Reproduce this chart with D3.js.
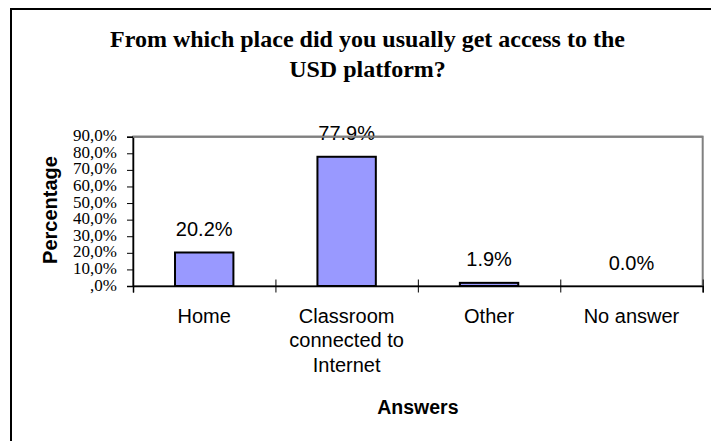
<!DOCTYPE html>
<html>
<head>
<meta charset="utf-8">
<script src="https://cdn.jsdelivr.net/npm/d3@7"></script>
<style>
  html, body { margin: 0; padding: 0; background: #ffffff; }
  svg { display: block; }
</style>
</head>
<body>
<svg id="chart" width="711" height="441"></svg>
<script>
// Survey answers and their shares (in percent)
const categories = ["Home", "Classroom connected to Internet", "Other", "No answer"];
const values = [20.2, 77.9, 1.9, 0.0];
const valueLabels = ["20.2%", "77.9%", "1.9%", "0.0%"];
const yTicks = [0, 10, 20, 30, 40, 50, 60, 70, 80, 90];
const yTickLabels = [",0%", "10,0%", "20,0%", "30,0%", "40,0%", "50,0%", "60,0%", "70,0%", "80,0%", "90,0%"];
const titleLines = ["From which place did you usually get access to the", "USD platform?"];
const yTitle = "Percentage";
const xTitle = "Answers";

const svg = d3.select("#chart");

// Outer chart frame (runs past the right and bottom edges of the view)
svg.append("rect")
  .attr("x", 11).attr("y", 9)
  .attr("width", 800).attr("height", 500)
  .attr("fill", "#ffffff")
  .attr("stroke", "#000000")
  .attr("stroke-width", 2);

const plot = { left: 133, right: 702.7, top: 136.7, bottom: 286 };

const x = d3.scaleBand()
  .domain(categories)
  .range([plot.left, plot.right])
  .paddingInner(0.59)
  .paddingOuter(0.295);

const xEdges = d3.scaleLinear()
  .domain([0, categories.length])
  .range([plot.left, plot.right]);

const y = d3.scaleLinear()
  .domain([0, 90])
  .range([plot.bottom, plot.top]);

// Title
svg.append("g")
  .selectAll("text")
  .data(titleLines)
  .join("text")
  .attr("x", 367.5)
  .attr("y", (d, i) => 46.7 + i * 30.6)
  .attr("text-anchor", "middle")
  .attr("font-family", "'Liberation Serif', 'Times New Roman', serif")
  .attr("font-weight", "bold")
  .attr("font-size", 24)
  .attr("fill", "#000")
  .text(d => d);

// Plot area outline (grey top and right edges)
svg.append("rect")
  .attr("x", plot.left).attr("y", plot.top)
  .attr("width", plot.right - plot.left)
  .attr("height", plot.bottom - plot.top)
  .attr("fill", "none")
  .attr("stroke", "#808080")
  .attr("stroke-width", 2);

// Bars
svg.append("g")
  .selectAll("rect")
  .data(categories.map((c, i) => ({ c, v: values[i] })))
  .join("rect")
  .attr("x", d => x(d.c))
  .attr("y", d => y(d.v))
  .attr("width", x.bandwidth())
  .attr("height", d => y(0) - y(d.v))
  .attr("fill", "#9999ff")
  .attr("stroke", "#000000")
  .attr("stroke-width", 2);

// Y axis
const yAxis = d3.axisLeft(y)
  .tickValues(yTicks)
  .tickSize(6)
  .tickPadding(10)
  .tickFormat((d, i) => yTickLabels[i]);

const gy = svg.append("g")
  .attr("transform", `translate(${plot.left},0)`)
  .call(yAxis);
gy.select(".domain").attr("stroke", "#000").attr("stroke-width", 1.5);
gy.selectAll(".tick line").attr("stroke", "#000").attr("stroke-width", 1);
gy.selectAll(".tick text")
  .attr("font-family", "'Liberation Serif', 'Times New Roman', serif")
  .attr("font-size", 17)
  .attr("fill", "#000")
  .attr("dy", "0.24em");

// X axis: ticks between categories, crossing the axis line
const xAxis = d3.axisBottom(xEdges)
  .tickValues(d3.range(categories.length + 1))
  .tickSize(6.5)
  .tickFormat("");

const gx = svg.append("g")
  .attr("transform", `translate(0,${plot.bottom})`)
  .call(xAxis);
gx.select(".domain").attr("stroke", "#000").attr("stroke-width", 1.5);
gx.selectAll(".tick line")
  .attr("y1", -6.5)
  .attr("stroke", "#000")
  .attr("stroke-width", 1);

// Category labels, wrapped to fit each slot
const wrapWidth = 130;
const labelG = svg.append("g");
categories.forEach(c => {
  const t = labelG.append("text")
    .attr("x", x(c) + x.bandwidth() / 2)
    .attr("y", 323)
    .attr("text-anchor", "middle")
    .attr("font-family", "'Liberation Sans', Arial, sans-serif")
    .attr("font-size", 20)
    .attr("fill", "#000");
  const words = c.split(" ");
  let line = [];
  let lineNo = 0;
  let tspan = t.append("tspan").attr("x", x(c) + x.bandwidth() / 2).attr("dy", 0);
  words.forEach(w => {
    line.push(w);
    tspan.text(line.join(" "));
    if (tspan.node().getComputedTextLength() > wrapWidth && line.length > 1) {
      line.pop();
      tspan.text(line.join(" "));
      line = [w];
      lineNo++;
      tspan = t.append("tspan")
        .attr("x", x(c) + x.bandwidth() / 2)
        .attr("dy", 24.4)
        .text(w);
    }
  });
});

// Value labels above bars
svg.append("g")
  .selectAll("text")
  .data(categories.map((c, i) => ({ c, v: values[i], label: valueLabels[i] })))
  .join("text")
  .attr("x", d => x(d.c) + x.bandwidth() / 2)
  .attr("y", d => y(d.v) - 16.5)
  .attr("text-anchor", "middle")
  .attr("font-family", "'Liberation Sans', Arial, sans-serif")
  .attr("font-size", 20)
  .attr("fill", "#000")
  .text(d => d.label);

// Redraw the top edge of the plot area over the label that reaches it
svg.append("line")
  .attr("x1", plot.left).attr("x2", plot.right)
  .attr("y1", plot.top).attr("y2", plot.top)
  .attr("stroke", "#808080")
  .attr("stroke-width", 2);

// Axis titles
svg.append("text")
  .attr("transform", `translate(57,210) rotate(-90)`)
  .attr("text-anchor", "middle")
  .attr("font-family", "'Liberation Sans', Arial, sans-serif")
  .attr("font-weight", "bold")
  .attr("font-size", 20)
  .attr("fill", "#000")
  .text(yTitle);

svg.append("text")
  .attr("x", (plot.left + plot.right) / 2)
  .attr("y", 414.3)
  .attr("text-anchor", "middle")
  .attr("font-family", "'Liberation Sans', Arial, sans-serif")
  .attr("font-weight", "bold")
  .attr("font-size", 19.5)
  .attr("fill", "#000")
  .text(xTitle);
</script>
</body>
</html>
